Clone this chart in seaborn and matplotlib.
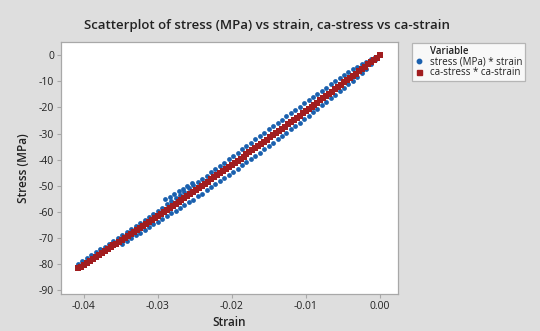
import matplotlib
matplotlib.use("Agg")
import matplotlib.pyplot as plt
from matplotlib.lines import Line2D
import seaborn as sns
import pandas as pd

# ---------------- data ----------------
# measured stress (MPa) vs strain: upper branch
strain_up = [0.0, -0.0006, -0.0012, -0.0018, -0.0024, -0.0030, -0.0036, -0.0042, -0.0048, -0.0054,
             -0.0060, -0.0066, -0.0072, -0.0078, -0.0084, -0.0090, -0.0096, -0.0102, -0.0108, -0.0114,
             -0.0120, -0.0126, -0.0132, -0.0138, -0.0144, -0.0150, -0.0156, -0.0162, -0.0168, -0.0174,
             -0.0180, -0.0186, -0.0192, -0.0198, -0.0204, -0.0210, -0.0216, -0.0222, -0.0228, -0.0234,
             -0.0240, -0.0246, -0.0252, -0.0258, -0.0264, -0.0270, -0.0276, -0.0282, -0.0288, -0.0294,
             -0.0300, -0.0306, -0.0312, -0.0318, -0.0324, -0.0330, -0.0336, -0.0342, -0.0348, -0.0354,
             -0.0360, -0.0366, -0.0372, -0.0378, -0.0384, -0.0390, -0.0396, -0.0402, -0.0408]
stress_up = [0.0, -0.8, -1.6, -2.4, -3.4, -4.4, -5.4, -6.4, -7.4, -8.6,
             -9.9, -11.1, -12.4, -13.5, -14.8, -16.0, -17.2, -18.4, -19.7, -20.9,
             -22.2, -23.4, -24.7, -25.9, -27.1, -28.4, -29.7, -30.9, -32.2, -33.5,
             -34.8, -36.0, -37.3, -38.6, -39.8, -41.1, -42.3, -43.6, -44.8, -46.1,
             -47.3, -48.5, -49.8, -51.0, -52.3, -53.4, -54.7, -55.8, -57.1, -58.4,
             -59.6, -60.7, -61.9, -63.1, -64.3, -65.4, -66.6, -67.7, -68.9, -70.0,
             -71.1, -72.2, -73.3, -74.4, -75.5, -76.6, -77.7, -78.8, -79.9]

# measured: lower branch
strain_lo = [0.0, -0.0006, -0.0012, -0.0018, -0.0024, -0.0030, -0.0036, -0.0042, -0.0048, -0.0054,
             -0.0060, -0.0066, -0.0072, -0.0078, -0.0084, -0.0090, -0.0096, -0.0102, -0.0108, -0.0114,
             -0.0120, -0.0126, -0.0132, -0.0138, -0.0144, -0.0150, -0.0156, -0.0162, -0.0168, -0.0174,
             -0.0180, -0.0186, -0.0192, -0.0198, -0.0204, -0.0210, -0.0216, -0.0222, -0.0228, -0.0234,
             -0.0240, -0.0246, -0.0252, -0.0258, -0.0264, -0.0270, -0.0276, -0.0282, -0.0288, -0.0294,
             -0.0300, -0.0306, -0.0312, -0.0318, -0.0324, -0.0330, -0.0336, -0.0342, -0.0348]
stress_lo = [0.0, -1.7, -3.4, -5.1, -6.7, -8.3, -9.8, -11.1, -12.5, -13.8,
             -15.2, -16.5, -17.9, -19.1, -20.5, -21.8, -23.1, -24.4, -25.8, -27.0,
             -28.4, -29.6, -31.0, -32.2, -33.5, -34.9, -36.1, -37.3, -38.5, -39.8,
             -41.0, -42.2, -43.4, -44.6, -45.8, -47.0, -48.2, -49.4, -50.6, -51.8,
             -53.0, -54.1, -55.3, -56.4, -57.5, -58.5, -59.6, -60.6, -61.7, -62.8,
             -63.8, -64.8, -65.9, -66.9, -68.0, -69.0, -70.0, -71.0, -72.2]

# measured: short scattered segment
strain_mid = [-0.0290, -0.0284, -0.0278, -0.0272, -0.0266, -0.0260, -0.0254]
stress_mid = [-55.2, -54.2, -53.2, -52.2, -51.1, -50.1, -49.1]

# ca-stress vs ca-strain
ca_strain = [0.0, -0.0004, -0.0008, -0.0012, -0.0016, -0.0020, -0.0024, -0.0028, -0.0032, -0.0036,
             -0.0040, -0.0044, -0.0048, -0.0052, -0.0056, -0.0060, -0.0064, -0.0068, -0.0072, -0.0076,
             -0.0080, -0.0084, -0.0088, -0.0092, -0.0096, -0.0100, -0.0104, -0.0108, -0.0112, -0.0116,
             -0.0120, -0.0124, -0.0128, -0.0132, -0.0136, -0.0140, -0.0144, -0.0148, -0.0152, -0.0156,
             -0.0160, -0.0164, -0.0168, -0.0172, -0.0176, -0.0180, -0.0184, -0.0188, -0.0192, -0.0196,
             -0.0200, -0.0204, -0.0208, -0.0212, -0.0216, -0.0220, -0.0224, -0.0228, -0.0232, -0.0236,
             -0.0240, -0.0244, -0.0248, -0.0252, -0.0256, -0.0260, -0.0264, -0.0268, -0.0272, -0.0276,
             -0.0280, -0.0284, -0.0288, -0.0292, -0.0296, -0.0300, -0.0304, -0.0308, -0.0312, -0.0316,
             -0.0320, -0.0324, -0.0328, -0.0332, -0.0336, -0.0340, -0.0344, -0.0348, -0.0352, -0.0356,
             -0.0360, -0.0364, -0.0368, -0.0372, -0.0376, -0.0380, -0.0384, -0.0388, -0.0392, -0.0396,
             -0.0400, -0.0404, -0.0408]
ca_stress = [0.0, -0.9, -1.8, -2.6, -3.5, -4.4, -5.2, -6.1, -7.0, -7.8,
             -8.7, -9.6, -10.4, -11.3, -12.1, -13.0, -13.9, -14.7, -15.6, -16.4,
             -17.3, -18.1, -19.0, -19.8, -20.6, -21.5, -22.3, -23.2, -24.0, -24.8,
             -25.7, -26.5, -27.3, -28.2, -29.0, -29.8, -30.6, -31.5, -32.3, -33.1,
             -33.9, -34.7, -35.5, -36.4, -37.2, -38.0, -38.8, -39.6, -40.4, -41.2,
             -42.0, -42.8, -43.6, -44.4, -45.2, -46.0, -46.8, -47.6, -48.4, -49.2,
             -50.0, -50.7, -51.5, -52.3, -53.1, -53.9, -54.7, -55.4, -56.2, -57.0,
             -57.8, -58.5, -59.3, -60.1, -60.8, -61.6, -62.4, -63.1, -63.9, -64.6,
             -65.4, -66.2, -66.9, -67.7, -68.4, -69.2, -69.9, -70.7, -71.4, -72.2,
             -72.9, -73.6, -74.4, -75.1, -75.9, -76.6, -77.3, -78.1, -78.8, -79.5,
             -80.2, -81.0, -81.7]

label_meas = "stress (MPa) * strain"
label_ca = "ca-stress * ca-strain"
title = "Scatterplot of stress (MPa) vs strain, ca-stress vs ca-strain"
x_ticks = [-0.04, -0.03, -0.02, -0.01, 0.00]
y_ticks = [0, -10, -20, -30, -40, -50, -60, -70, -80, -90]

# ---------------- style ----------------
sns.set_style("white")
plt.rcParams["font.family"] = ["Open Sans", "DejaVu Sans"]
plt.rcParams["axes.unicode_minus"] = False

BLUE = "#1a60ae"
RED = "#a11d1f"
BG = "#dedede"
SPINE = "#a8a8a8"
TXT = "#222222"

meas = pd.DataFrame({"strain": strain_up + strain_lo + strain_mid,
                     "stress": stress_up + stress_lo + stress_mid})
ca = pd.DataFrame({"strain": ca_strain, "stress": ca_stress})

fig = plt.figure(figsize=(5.40, 3.31), dpi=100, facecolor=BG)
ax = fig.add_axes([61 / 540, 1 - 294 / 331, (398 - 61) / 540, (294 - 42) / 331])
ax.set_facecolor("white")

sns.scatterplot(data=meas, x="strain", y="stress", ax=ax, color=BLUE, marker="o",
                s=12, linewidth=0, legend=False, zorder=2)
sns.scatterplot(data=ca, x="strain", y="stress", ax=ax, color=RED, marker="s",
                s=24, linewidth=0, legend=False, zorder=3)

ax.set_xlim(-0.0431, 0.0025)
ax.set_ylim(-91.5, 5.1)
ax.set_xticks(x_ticks)
ax.set_xticklabels([f"{v:.2f}" for v in x_ticks])
ax.set_yticks(y_ticks)
ax.set_yticklabels([str(v) for v in y_ticks])
ax.tick_params(axis="both", length=3, width=0.8, color=SPINE, labelsize=7.5,
               labelcolor=TXT, pad=2, direction="out", bottom=True, left=True)
for sp in ax.spines.values():
    sp.set_color(SPINE)
    sp.set_linewidth(0.9)

ax.set_xlabel("Strain", fontsize=8.5, fontweight="semibold", color=TXT, labelpad=3)
ax.set_ylabel("Stress (MPa)", fontsize=8.5, fontweight="semibold", color=TXT, labelpad=6)

fig.text(0.5 * (88 + 446) / 540, 1 - 25 / 331, title, ha="center", va="center",
         fontsize=9.5, fontweight="semibold", color=TXT)

handles = [Line2D([], [], linestyle="none", marker=None),
           Line2D([], [], linestyle="none", marker="o", color=BLUE, markersize=3.2),
           Line2D([], [], linestyle="none", marker="s", color=RED, markersize=3.6)]
labels = ["Variable", label_meas, label_ca]
leg = fig.legend(handles, labels, loc="upper left",
                 bbox_to_anchor=(412 / 540, 1 - 43 / 331), frameon=True, fancybox=False,
                 fontsize=7.0, handlelength=0.8, handletextpad=0.7, borderpad=0.3,
                 labelspacing=-0.05, borderaxespad=0, handleheight=0.5)
leg.get_frame().set_edgecolor(SPINE)
leg.get_frame().set_linewidth(0.9)
leg.get_frame().set_facecolor("white")
for t in leg.get_texts():
    t.set_color(TXT)
leg.get_texts()[0].set_fontweight("semibold")

fig.savefig("out.png", dpi=100, facecolor=BG)
